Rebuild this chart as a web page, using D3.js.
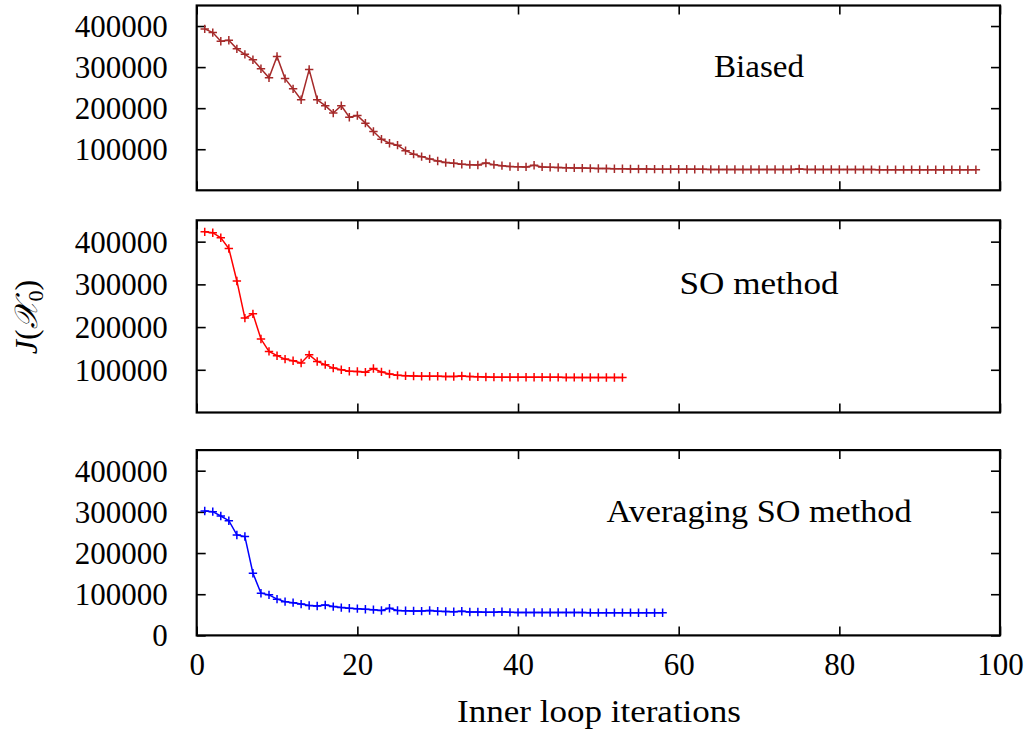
<!DOCTYPE html>
<html>
<head>
<meta charset="utf-8">
<script src="https://cdn.jsdelivr.net/npm/d3@7"></script>
<style>
  html, body { margin: 0; padding: 0; background: #fff; }
  svg { display: block; }
  text { font-family: "Liberation Serif", "DejaVu Serif", serif; fill: #000; }
</style>
</head>
<body>
<svg id="chart" width="1027" height="733"></svg>
<script>
// ---------------- data ----------------
const panelNames = ["Biased", "SO method", "Averaging SO method"];
const seriesColors = ["#a52a2a", "#ff0000", "#0000ff"];
const xTicks = [0, 20, 40, 60, 80, 100];
const yTicks = [0, 100000, 200000, 300000, 400000];

const biased = [
  393000, 384000, 363000, 365500, 344500, 331000, 318000, 296000, 274000, 326000,
  272000, 247000, 220500, 294000, 220500, 206000, 188000, 206000, 178000, 182000,
  163500, 143000, 124500, 114500, 110000, 96500, 88000, 82000, 76500, 71500,
  67500, 66000, 63500, 62500, 61500, 66500, 62500, 60000, 58000, 57500,
  57000, 61000, 57000, 56000, 55500, 55000, 54500, 54000, 53500, 53000,
  52800, 52500, 52300, 52000, 51800, 51600, 51500, 51400, 51300, 51200,
  51100, 51000, 51000, 50900, 50900, 50800, 50800, 50800, 50700, 50700,
  50700, 50600, 50600, 50600, 51800, 50600, 50500, 50500, 50500, 50500,
  50400, 50400, 50400, 50400, 50300, 50300, 50300, 50300, 50300, 50200,
  50200, 50200, 50200, 50200, 50100, 50100, 50100
];
const soMethod = [
  423000, 421000, 409000, 384000, 308000, 221000, 231000, 172000, 143000, 133000,
  125000, 121000, 116000, 135000, 119500, 112000, 104000, 100000, 96500, 96000,
  94500, 103000, 95000, 90000, 87000, 86000, 85500, 85000, 85000, 84800,
  84500, 84300, 85500, 84000, 83500, 83000, 82800, 82700, 82600, 82500,
  82500, 82400, 82400, 82300, 82300, 82200, 82200, 82200, 82100, 82100,
  82000, 82000, 82000
];
const avgSoMethod = [
  302000, 300500, 290000, 278500, 244000, 240000, 151000, 102500, 98500, 88000,
  82000, 79500, 76000, 72500, 71500, 74000, 70000, 67500, 66000, 65000,
  63500, 62500, 60500, 66000, 60500, 60000, 59500, 59000, 60500, 58500,
  58000, 57500, 58500, 57000, 56800, 56500, 56300, 57500, 56000, 55900,
  55800, 55700, 55600, 55600, 55500, 55500, 55400, 55400, 55300, 55300,
  55300, 55200, 55200, 55200, 55100, 55100, 55100, 55000
];
const allSeries = [biased, soMethod, avgSoMethod];

// ---------------- layout ----------------
const plotLeft = 196.7, plotRight = 1000;
const panels = [
  { top: 5.5, bottom: 190.3 },
  { top: 220.3, bottom: 412.5 },
  { top: 450.1, bottom: 635.4 }
];
const labelWidths = [90, 159, 305];

const svg = d3.select("#chart");
const x = d3.scaleLinear().domain([0, 100]).range([plotLeft, plotRight]);
const tickLen = 9;
const fontSize = 31;

panels.forEach((p, i) => {
  const y = d3.scaleLinear().domain([0, 450000]).range([p.bottom, p.top]);
  const g = svg.append("g");
  const isLast = i === panels.length - 1;
  const yT = isLast ? yTicks : yTicks.filter(d => d > 0);

  const left = g.append("g").attr("transform", `translate(${plotLeft},0)`)
    .call(d3.axisLeft(y).tickValues(yT).tickSize(-tickLen).tickPadding(20 + tickLen).tickFormat(d3.format("d")));
  const right = g.append("g").attr("transform", `translate(${plotRight},0)`)
    .call(d3.axisRight(y).tickValues(yT).tickSize(-tickLen).tickFormat(""));
  const bottom = g.append("g").attr("transform", `translate(0,${p.bottom})`)
    .call(d3.axisBottom(x).tickValues(xTicks).tickSize(-tickLen).tickPadding(14 + tickLen)
      .tickFormat(isLast ? d3.format("d") : ""));
  const top = g.append("g").attr("transform", `translate(0,${p.top})`)
    .call(d3.axisTop(x).tickValues(xTicks).tickSize(-tickLen).tickFormat(""));

  [left, right, bottom, top].forEach(a => {
    a.select(".domain").remove();
    a.selectAll(".tick line").attr("stroke", "#000").attr("stroke-width", 1.6);
    a.selectAll(".tick text").attr("font-family", "Liberation Serif, serif")
      .attr("font-size", fontSize).attr("fill", "#000");
  });
  left.selectAll(".tick text").attr("dy", "0.34em");
  bottom.selectAll(".tick text").attr("dy", "0.55em");

  g.append("rect")
    .attr("x", plotLeft).attr("y", p.top)
    .attr("width", plotRight - plotLeft).attr("height", p.bottom - p.top)
    .attr("fill", "none").attr("stroke", "#000").attr("stroke-width", 2.2);

  const data = allSeries[i].map((v, k) => ({ it: k + 1, v }));
  const color = seriesColors[i];
  g.append("path").datum(data)
    .attr("fill", "none").attr("stroke", color).attr("stroke-width", 1.5)
    .attr("d", d3.line().x(d => x(d.it)).y(d => y(d.v)));
  const m = 4.2;
  g.append("g").selectAll("path.mk").data(data).join("path")
    .attr("class", "mk")
    .attr("stroke", color).attr("stroke-width", 1.5).attr("fill", "none")
    .attr("d", d => {
      const cx = x(d.it), cy = y(d.v);
      return `M${cx - m},${cy}H${cx + m}M${cx},${cy - m}V${cy + m}`;
    });

  g.append("text")
    .attr("x", 759 - labelWidths[i] / 2).attr("y", y(303000))
    .attr("dy", "0.34em")
    .attr("font-size", 32)
    .attr("textLength", labelWidths[i])
    .attr("lengthAdjust", "spacingAndGlyphs")
    .text(panelNames[i]);
});

svg.append("text")
  .attr("x", 457).attr("y", 722)
  .attr("font-size", 32)
  .attr("textLength", 284)
  .attr("lengthAdjust", "spacingAndGlyphs")
  .text("Inner loop iterations");

const yl = svg.append("text")
  .attr("transform", "translate(37,317) rotate(-90)")
  .attr("text-anchor", "middle")
  .attr("font-size", 32);
yl.append("tspan").attr("font-style", "italic").text("J");
yl.append("tspan").text("(");
yl.append("tspan").attr("font-style", "italic").text("\u{1D4B3}");
yl.append("tspan").attr("font-size", 22).attr("dy", 6).text("0");
yl.append("tspan").attr("dy", -6).text(")");
</script>
</body>
</html>
